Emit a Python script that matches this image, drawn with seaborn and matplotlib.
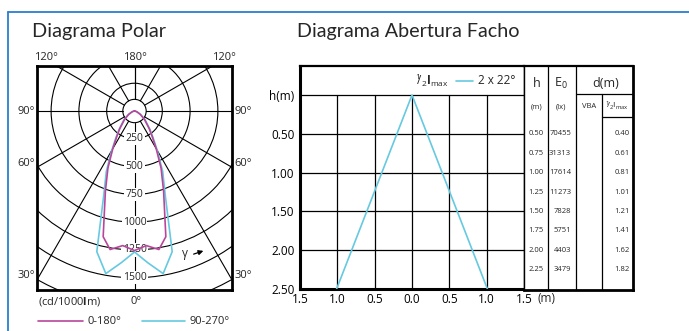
import numpy as np
import pandas as pd
import matplotlib
matplotlib.use("Agg")
import matplotlib.pyplot as plt
import seaborn as sns
from matplotlib.patches import Circle
from matplotlib.lines import Line2D

# ---------------- data ----------------
# polar diagram (cd/1000lm), gamma measured from nadir (0 deg = down)
gamma_0_180 = [0, 5, 10, 14, 20, 25, 30, 35, 40, 50, 60, 70, 80, 90]
intensity_0_180 = [1255, 1215, 1265, 1165, 765, 565, 390, 275, 205, 117, 60, 25, 8, 0]
gamma_90_270 = [0, 5, 10, 15, 20, 25, 30, 35, 40, 50, 60, 70, 80, 90]
intensity_90_270 = [1268, 1370, 1485, 1310, 810, 600, 410, 290, 215, 125, 65, 28, 10, 0]
series_labels = ["0-180°", "90-270°"]

ring_values = [250, 500, 750, 1000, 1250, 1500, 1750]
ring_labels = [250, 500, 750, 1000, 1250, 1500]
ray_angles = [30, 60, 90, 120, 150, 180]

# beam aperture diagram
beam_x = [-1.01, 0.0, 1.01]
beam_h = [2.5, 0.0, 2.5]
beam_label = "2 x 22°"
h_ticks = [0.0, 0.5, 1.0, 1.5, 2.0, 2.5]
h_tick_labels = ["h(m)", "0.50", "1.00", "1.50", "2.00", "2.50"]
x_ticks = [-1.5, -1.0, -0.5, 0.0, 0.5, 1.0, 1.5]
x_tick_labels = ["1.5", "1.0", "0.5", "0.0", "0.5", "1.0", "1.5"]

# table
table_h = [0.50, 0.75, 1.00, 1.25, 1.50, 1.75, 2.00, 2.25]
table_E0 = [70455, 31313, 17614, 11273, 7828, 5751, 4403, 3479]
table_d_half = [0.40, 0.61, 0.81, 1.01, 1.21, 1.41, 1.62, 1.82]

# ---------------- style ----------------
sns.set_style("white")
plt.rcParams["font.family"] = ["Open Sans", "DejaVu Sans"]
plt.rcParams["mathtext.fontset"] = "custom"
plt.rcParams["mathtext.rm"] = "Open Sans"
plt.rcParams["mathtext.bf"] = "Open Sans:bold"
plt.rcParams["mathtext.it"] = "Open Sans:italic"

MAGENTA = "#b9469b"
CYAN = "#66c9e0"
BLUE = "#2a7fd0"
TITLE_FONT = ["Lato", "DejaVu Sans"]

W, H = 689, 331
fig = plt.figure(figsize=(W / 100, H / 100), dpi=100)


def fx(x):
    return x / W


def fy(y):
    return 1 - y / H


def ftext(x, y, s, **kw):
    kw.setdefault("ha", "center")
    kw.setdefault("va", "center")
    return fig.text(fx(x), fy(y), s, **kw)


# blue frame
fig.add_artist(Line2D([fx(8), fx(8)], [fy(12), 0], color=BLUE, lw=1.3))
fig.add_artist(Line2D([fx(8), 1], [fy(12), fy(12)], color=BLUE, lw=1.3))

# titles
ftext(32, 31, "Diagrama Polar", ha="left", fontsize=14.3, family=TITLE_FONT)
ftext(297, 31, "Diagrama Abertura Facho", ha="left", fontsize=14.2, family=TITLE_FONT)

# ---------------- polar diagram ----------------
ax1 = fig.add_axes([fx(37), fy(290), fx(232) - fx(37), fy(66) - fy(290)])
ax1.set_xlim(-877, 877)
ax1.set_ylim(-1610, 405)
HUB = 105

for r in ring_values:
    ax1.add_patch(Circle((0, 0), r, fill=False, lw=0.8, ec="black", zorder=1))
ax1.add_patch(Circle((0, 0), HUB, fill=False, lw=0.8, ec="black", zorder=1))
for g in ray_angles:
    gr = np.deg2rad(g)
    for s in (-1, 1):
        ax1.plot([s * HUB * np.sin(gr), s * 3000 * np.sin(gr)],
                 [-HUB * np.cos(gr), -3000 * np.cos(gr)], color="black", lw=0.8, zorder=1)
ax1.plot([0, 0], [-HUB, -1700], color="black", lw=0.8, zorder=1)

for v in ring_labels:
    ax1.text(0, -v, str(v), ha="center", va="center", fontsize=7.5, zorder=3,
             bbox=dict(fc="white", ec="none", pad=0.8))


def polar_frame(gammas, intens, label):
    g = np.asarray(gammas, float)
    i = np.asarray(intens, float)
    gf = np.concatenate([-g[::-1], g[1:]])
    inf = np.concatenate([i[::-1], i[1:]])
    rad = np.deg2rad(gf)
    return pd.DataFrame({"x": inf * np.sin(rad), "y": -inf * np.cos(rad),
                         "plane": label, "order": np.arange(len(gf))})


df_c = polar_frame(gamma_90_270, intensity_90_270, series_labels[1])
df_m = polar_frame(gamma_0_180, intensity_0_180, series_labels[0])
sns.lineplot(data=df_c, x="x", y="y", sort=False, estimator=None, color=CYAN,
             lw=1.2, ax=ax1, legend=False, zorder=5)
sns.lineplot(data=df_m, x="x", y="y", sort=False, estimator=None, color=MAGENTA,
             lw=1.2, ax=ax1, legend=False, zorder=6)

ax1.set_xlabel("")
ax1.set_ylabel("")
ax1.set_xticks([])
ax1.set_yticks([])
for sp in ax1.spines.values():
    sp.set_visible(True)
    sp.set_linewidth(2.0)
    sp.set_color("black")
    sp.set_zorder(8)

# angle labels around the polar box
for (x, y, s) in [(46, 57, "120°"), (135, 57, "180°"), (224, 57, "120°"),
                  (26, 111, "90°"), (243, 111, "90°"),
                  (26, 163, "60°"), (243, 163, "60°"),
                  (26, 276, "30°"), (243, 276, "30°"),
                  (136, 302, "0°")]:
    ftext(x, y, s, fontsize=8)
ftext(38, 302, r"(cd/1000$\mathbf{l}$m)", ha="left", fontsize=8)

# gamma arrow
ftext(185, 253, "γ", fontsize=8.5)
fig.add_artist(matplotlib.patches.FancyArrowPatch(
    (fx(191), fy(255)), (fx(206), fy(250)), transform=fig.transFigure,
    arrowstyle="-|>", mutation_scale=7, lw=0.9, color="black"))

# legend under polar diagram
fig.add_artist(Line2D([fx(38), fx(83)], [fy(321), fy(321)], color=MAGENTA, lw=1.2))
ftext(88, 321, series_labels[0], ha="left", fontsize=8)
fig.add_artist(Line2D([fx(142), fx(185)], [fy(321), fy(321)], color=CYAN, lw=1.2))
ftext(190, 321, series_labels[1], ha="left", fontsize=8)

# ---------------- beam aperture diagram ----------------
ax2 = fig.add_axes([fx(300), fy(289), fx(524) - fx(300), fy(66) - fy(289)])
ax2.set_xlim(-1.5, 1.5)
ax2.set_ylim(2.5, -0.374)
for xv in [-1.0, -0.5, 0.0, 0.5, 1.0]:
    ax2.plot([xv, xv], [0, 2.5], color="black", lw=0.9, zorder=1)
for hv in [0.0, 0.5, 1.0, 1.5, 2.0]:
    ax2.plot([-1.5, 1.5], [hv, hv], color="black", lw=0.9, zorder=1)

df_beam = pd.DataFrame({"x": beam_x, "h": beam_h})
sns.lineplot(data=df_beam, x="x", y="h", sort=False, estimator=None, color=CYAN,
             lw=1.2, ax=ax2, legend=False, zorder=4)
ax2.set_xlim(-1.5, 1.5)
ax2.set_ylim(2.5, -0.374)
ax2.set_xlabel("")
ax2.set_ylabel("")
ax2.set_yticks(h_ticks)
ax2.set_yticklabels(h_tick_labels)
ax2.set_xticks(x_ticks)
ax2.set_xticklabels(x_tick_labels)
ax2.tick_params(axis="both", length=0, labelsize=8.5, colors="black")
ax2.tick_params(axis="y", pad=4)
ax2.tick_params(axis="x", pad=3)
for name, sp in ax2.spines.items():
    sp.set_visible(True)
    sp.set_color("black")
ax2.spines["left"].set_linewidth(2.2)
ax2.spines["bottom"].set_linewidth(2.2)
ax2.spines["top"].set_linewidth(1.6)
ax2.spines["right"].set_linewidth(1.0)
ftext(537, 298, "(m)", ha="left", fontsize=8.5)

# beam legend
ftext(449, 80, r"$^{1}\!\!/_{2}\mathbf{I}_{\mathrm{max}}$", ha="right", fontsize=8.5)
fig.add_artist(Line2D([fx(456), fx(473)], [fy(81), fy(81)], color=CYAN, lw=1.2))
ftext(478, 80, beam_label, ha="left", fontsize=8.5)

# ---------------- table ----------------
ax3 = fig.add_axes([fx(524), fy(290), fx(633) - fx(524), fy(66) - fy(290)])
ax3.set_xlim(524, 633)
ax3.set_ylim(2.51, -0.375)
ax3.set_xticks([])
ax3.set_yticks([])
for sp in ax3.spines.values():
    sp.set_visible(True)
    sp.set_color("black")
ax3.spines["left"].set_linewidth(1.0)
ax3.spines["top"].set_linewidth(1.6)
ax3.spines["right"].set_linewidth(2.0)
ax3.spines["bottom"].set_linewidth(2.0)
for xv in [548, 576]:
    ax3.plot([xv, xv], [-0.4, 2.6], color="black", lw=0.9)
ax3.plot([602, 602], [-0.01, 2.6], color="black", lw=0.9)
ax3.plot([576, 633], [-0.01, -0.01], color="black", lw=0.9)
ax3.plot([602, 633], [0.28, 0.28], color="black", lw=0.9)

ax3.text(536.5, -0.155, "h", ha="center", va="center", fontsize=9)
ax3.text(561, -0.155, r"E$_{0}$", ha="center", va="center", fontsize=9)
ax3.text(606, -0.155, "d(m)", ha="center", va="center", fontsize=9)
ax3.text(536.5, 0.15, "(m)", ha="center", va="center", fontsize=5.5)
ax3.text(561, 0.15, "(lx)", ha="center", va="center", fontsize=5.5)
ax3.text(589, 0.15, "VBA", ha="center", va="center", fontsize=5.5)
ax3.text(617, 0.14, r"$^{1}\!\!/_{2}\mathrm{I}_{\mathrm{max}}$", ha="center", va="center", fontsize=6)

for hv, e0, dv in zip(table_h, table_E0, table_d_half):
    ax3.text(536, hv, f"{hv:.2f}", ha="center", va="center", fontsize=5.5)
    ax3.text(571, hv, f"{e0}", ha="right", va="center", fontsize=5.5)
    ax3.text(629.5, hv, f"{dv:.2f}", ha="right", va="center", fontsize=5.5)

fig.savefig("out.png", dpi=100)
